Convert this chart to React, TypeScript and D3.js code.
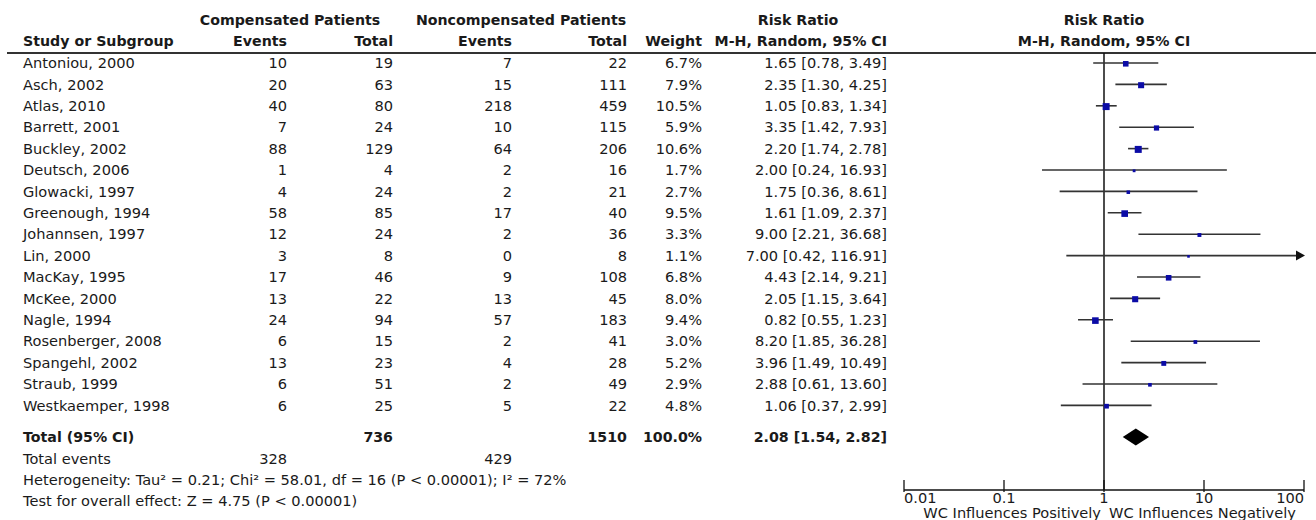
import React from "react";
import * as d3 from "d3";

const studies = ["Antoniou, 2000","Asch, 2002","Atlas, 2010","Barrett, 2001","Buckley, 2002","Deutsch, 2006","Glowacki, 1997","Greenough, 1994","Johannsen, 1997","Lin, 2000","MacKay, 1995","McKee, 2000","Nagle, 1994","Rosenberger, 2008","Spangehl, 2002","Straub, 1999","Westkaemper, 1998"];
const compEvents = [10,20,40,7,88,1,4,58,12,3,17,13,24,6,13,6,6];
const compTotal = [19,63,80,24,129,4,24,85,24,8,46,22,94,15,23,51,25];
const nonEvents = [7,15,218,10,64,2,2,17,2,0,9,13,57,2,4,2,5];
const nonTotal = [22,111,459,115,206,16,21,40,36,8,108,45,183,41,28,49,22];
const weights = [6.7,7.9,10.5,5.9,10.6,1.7,2.7,9.5,3.3,1.1,6.8,8.0,9.4,3.0,5.2,2.9,4.8];
const rr = [1.65,2.35,1.05,3.35,2.20,2.00,1.75,1.61,9.00,7.00,4.43,2.05,0.82,8.20,3.96,2.88,1.06];
const lo = [0.78,1.30,0.83,1.42,1.74,0.24,0.36,1.09,2.21,0.42,2.14,1.15,0.55,1.85,1.49,0.61,0.37];
const hi = [3.49,4.25,1.34,7.93,2.78,16.93,8.61,2.37,36.68,116.91,9.21,3.64,1.23,36.28,10.49,13.60,2.99];
const total = { compTotal: 736, nonTotal: 1510, weight: 100.0, rr: 2.08, lo: 1.54, hi: 2.82, compEvents: 328, nonEvents: 429 };
const axisTicks = [0.01, 0.1, 1, 10, 100];
const heterogeneity = "Heterogeneity: Tau² = 0.21; Chi² = 58.01, df = 16 (P < 0.00001); I² = 72%";
const overall = "Test for overall effect: Z = 4.75 (P < 0.00001)";

const FONT = "'DejaVu Sans', Verdana, sans-serif";
const FS = 14.6;
const FSB = 14.2;
const TXT = "#1a1a1a";

export default function App() {
  const x = d3.scaleLog().domain([0.01, 100]).range([904, 1304]);
  const rowY = d3.scaleLinear().domain([0, 1]).range([63, 84.4]);
  const yTotal = rowY(16) + 31.5;
  const yTE = yTotal + 21.5;
  const yHet = yTE + 21.2;
  const yTest = yHet + 21.2;
  const axisY = 490;
  const sq = (w: number) => Math.max(2.6, 2.15 * Math.sqrt(w));
  const cols = { ce: 287, ct: 393, ne: 512, nt: 627, w: 702, rr: 887 };
  const f2 = d3.format(".2f");
  const f1 = d3.format(".1f");
  const ciText = (r: number, l: number, h: number) => `${f2(r)} [${f2(l)}, ${f2(h)}]`;
  const dy = 5.2;

  const t = (xx: number, yy: number, s: string, anchor = "end", bold = false) => (
    <text x={xx} y={yy + dy} textAnchor={anchor} fontWeight={bold ? "bold" : "normal"} fontSize={bold ? FSB : FS}>{s}</text>
  );

  const x1 = x(1);
  const dx = x(total.rr), dl = x(total.lo), dh = x(total.hi);

  return (
    <svg width={1316} height={520} style={{ position: "absolute", left: 0, top: 0, background: "#fff" }}
      fontFamily={FONT} fontSize={FS} fill={TXT}>
      {/* Header */}
      {t(290, 20, "Compensated Patients", "middle", true)}
      {t(521, 20, "Noncompensated Patients", "middle", true)}
      {t(798, 20, "Risk Ratio", "middle", true)}
      {t(x1, 20, "Risk Ratio", "middle", true)}
      {t(23, 41, "Study or Subgroup", "start", true)}
      {t(cols.ce, 41, "Events", "end", true)}
      {t(cols.ct, 41, "Total", "end", true)}
      {t(cols.ne, 41, "Events", "end", true)}
      {t(cols.nt, 41, "Total", "end", true)}
      {t(cols.w, 41, "Weight", "end", true)}
      {t(cols.rr, 41, "M-H, Random, 95% CI", "end", true)}
      {t(x1, 41, "M-H, Random, 95% CI", "middle", true)}
      <line x1={7} x2={1316} y1={53} y2={53} stroke="#333" strokeWidth={2} />

      {/* Rows */}
      {studies.map((s, i) => {
        const y = rowY(i);
        return (
          <g key={s}>
            {t(23, y, s, "start")}
            {t(cols.ce, y, String(compEvents[i]))}
            {t(cols.ct, y, String(compTotal[i]))}
            {t(cols.ne, y, String(nonEvents[i]))}
            {t(cols.nt, y, String(nonTotal[i]))}
            {t(cols.w, y, f1(weights[i]) + "%")}
            {t(cols.rr, y, ciText(rr[i], lo[i], hi[i]))}
          </g>
        );
      })}

      {/* Totals */}
      {t(23, yTotal, "Total (95% CI)", "start", true)}
      {t(cols.ct, yTotal, String(total.compTotal), "end", true)}
      {t(cols.nt, yTotal, String(total.nonTotal), "end", true)}
      {t(cols.w, yTotal, f1(total.weight) + "%", "end", true)}
      {t(cols.rr, yTotal, ciText(total.rr, total.lo, total.hi), "end", true)}
      {t(23, yTE, "Total events", "start")}
      {t(cols.ce, yTE, String(total.compEvents))}
      {t(cols.ne, yTE, String(total.nonEvents))}
      {t(23, yHet, heterogeneity, "start")}
      {t(23, yTest, overall, "start")}

      {/* Forest plot */}
      <line x1={x1} x2={x1} y1={53} y2={axisY} stroke="#111" strokeWidth={1.5} />
      {studies.map((s, i) => {
        const y = rowY(i);
        const clipped = hi[i] > 100;
        const xr = clipped ? x(100) : x(hi[i]);
        const size = sq(weights[i]);
        return (
          <g key={"f" + s}>
            <line x1={x(lo[i])} x2={clipped ? xr - 6 : xr} y1={y} y2={y} stroke="#333" strokeWidth={1.6} />
            {clipped && <path d={`M${xr - 8},${y - 5} L${xr + 1},${y} L${xr - 8},${y + 5} Z`} fill="#111" />}
            <rect x={x(rr[i]) - size / 2} y={y - size / 2 + 0.8} width={size} height={size} fill="#0b0ba6" />
          </g>
        );
      })}
      <path d={`M${dl},${yTotal} L${dx},${yTotal - 8.5} L${dh},${yTotal} L${dx},${yTotal + 8.5} Z`} fill="#000" />

      {/* Axis */}
      <line x1={x(0.01)} x2={x(100)} y1={axisY} y2={axisY} stroke="#111" strokeWidth={1.3} />
      {axisTicks.map((v) => (
        <g key={v}>
          <line x1={x(v)} x2={x(v)} y1={axisY - 10} y2={axisY + 2} stroke="#111" strokeWidth={1.3} />
          <text x={x(v)} y={503} textAnchor={v === 0.01 ? "start" : v === 100 ? "end" : "middle"}>{String(v)}</text>
        </g>
      ))}
      <text x={x1 - 3} y={518} textAnchor="end">WC Influences Positively</text>
      <text x={x1 + 5} y={518} textAnchor="start">WC Influences Negatively</text>
    </svg>
  );
}
